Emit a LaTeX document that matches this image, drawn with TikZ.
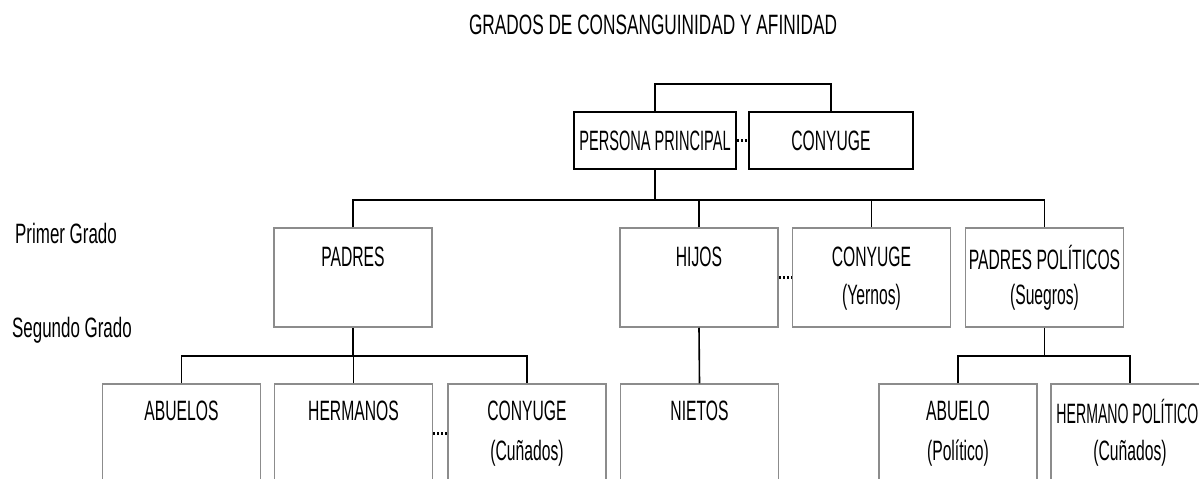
\documentclass[tikz,border=0pt]{standalone}
\usepackage{fontspec}
\setmainfont[FakeStretch=0.56]{Liberation Sans}
\definecolor{boxgray}{HTML}{8C8C8C}
\begin{document}
\begin{tikzpicture}[x=1pt,y=-1pt,
  font=\fontsize{28}{41}\selectfont,
  box/.style={draw=boxgray,line width=1.5pt,minimum width=158pt,minimum height=99pt,inner sep=0pt},
  topbox/.style={draw=black,line width=1.5pt,minimum height=57pt,inner sep=0pt},
  conn/.style={line width=1.6pt,draw=black},
  dots/.style={line width=2.2pt,draw=black,dash pattern=on 2pt off 2pt},
  lbl/.style={inner sep=0pt,align=center}]
\useasboundingbox (0,0) rectangle (1199,479);
\clip (0,0) rectangle (1199,479);

% title and side labels
\node[lbl] (title) at (653,25) {\scalebox{1.1}[1]{GRADOS DE CONSANGUINIDAD Y AFINIDAD}};
\node[lbl,anchor=west] (primer) at (15,233) {\scalebox{1.08}[1]{Primer Grado}};
\node[lbl,anchor=west] (segundo) at (12,330) {\scalebox{1.08}[1]{Segundo Grado}};

% top row
\node[topbox,minimum width=162pt] (persona) at (655,140.5) {\scalebox{0.93}[1]{PERSONA PRINCIPAL}};
\node[topbox,minimum width=164pt] (conyuge) at (831,140.5) {CONYUGE};

% first degree
\node[box] (padres) at (353,277.5) {};
\node[box] (hijos) at (699,277.5) {};
\node[box] (conyY) at (871.5,277.5) {};
\node[box] (padpol) at (1044.5,277.5) {};

% second degree
\node[box] (abuelos) at (181.5,433.5) {};
\node[box] (hermanos) at (353.5,433.5) {};
\node[box] (conyC) at (527,433.5) {};
\node[box] (nietos) at (699.5,433.5) {};
\node[box] (abuelo) at (958,433.5) {};
\node[box] (hermpol) at (1130,433.5) {};

% labels in boxes
\node[lbl] (tpadres) at ([yshift=-30pt]padres.north) {PADRES};
\node[lbl] (thijos) at ([yshift=-30pt]hijos.north) {HIJOS};
\node[lbl] (tconyY) at ([yshift=-30pt]conyY.north) {CONYUGE};
\node[lbl] (tconyY2) at ([yshift=-70pt]conyY.north) {(Yernos)};
\node[lbl] (tpadpol) at ([yshift=-30pt]padpol.north) {PADRES POLÍTICOS};
\node[lbl] (tpadpol2) at ([yshift=-70pt]padpol.north) {(Suegros)};

\node[lbl] (tabuelos) at ([yshift=-28pt]abuelos.north) {ABUELOS};
\node[lbl] (thermanos) at ([yshift=-28pt]hermanos.north) {HERMANOS};
\node[lbl] (tconyC) at ([yshift=-28pt]conyC.north) {CONYUGE};
\node[lbl] (tconyC2) at ([yshift=-70pt]conyC.north) {(Cuñados)};
\node[lbl] (tnietos) at ([yshift=-28pt]nietos.north) {NIETOS};
\node[lbl] (tabuelo) at ([yshift=-28pt]abuelo.north) {ABUELO};
\node[lbl] (tabuelo2) at ([yshift=-70pt]abuelo.north) {(Político)};
\node[lbl,anchor=west] (thermpol) at ([xshift=6pt,yshift=-28pt]hermpol.north west) {\scalebox{0.9}[1]{HERMANO POLÍTICO}};
\node[lbl] (thermpol2) at ([yshift=-70pt]hermpol.north) {(Cuñados)};

% connectors
\coordinate (top) at (655,84);
\coordinate (bus1) at (655,200);
\coordinate (bus2) at (353,356);
\coordinate (bus3) at (1044,356);

\draw[conn] (persona.north) -- (persona.north |- top) -- (conyuge.north |- top) -- (conyuge.north);
\draw[conn] (persona.south) -- (persona.south |- bus1);
\draw[conn] (padres.north) -- (padres.north |- bus1) -- (padpol.north |- bus1) -- (padpol.north);
\draw[conn] (hijos.north) -- (hijos.north |- bus1);
\draw[conn] (conyY.north) -- (conyY.north |- bus1);

\draw[conn] (padres.south) -- (padres.south |- bus2);
\draw[conn] (abuelos.north) -- (abuelos.north |- bus2) -- (conyC.north |- bus2) -- (conyC.north);
\draw[conn] (hermanos.north) -- (hermanos.north |- bus2);

\draw[conn] (hijos.south) -- (nietos.north);

\draw[conn] (padpol.south) -- (padpol.south |- bus3);
\draw[conn] (abuelo.north) -- (abuelo.north |- bus3) -- (hermpol.north |- bus3) -- (hermpol.north);

% dotted links
\draw[dots] (persona.east) -- (conyuge.west);
\draw[dots] (hijos.east) -- (conyY.west);
\draw[dots] (hermanos.east) -- (conyC.west);
\end{tikzpicture}
\end{document}
